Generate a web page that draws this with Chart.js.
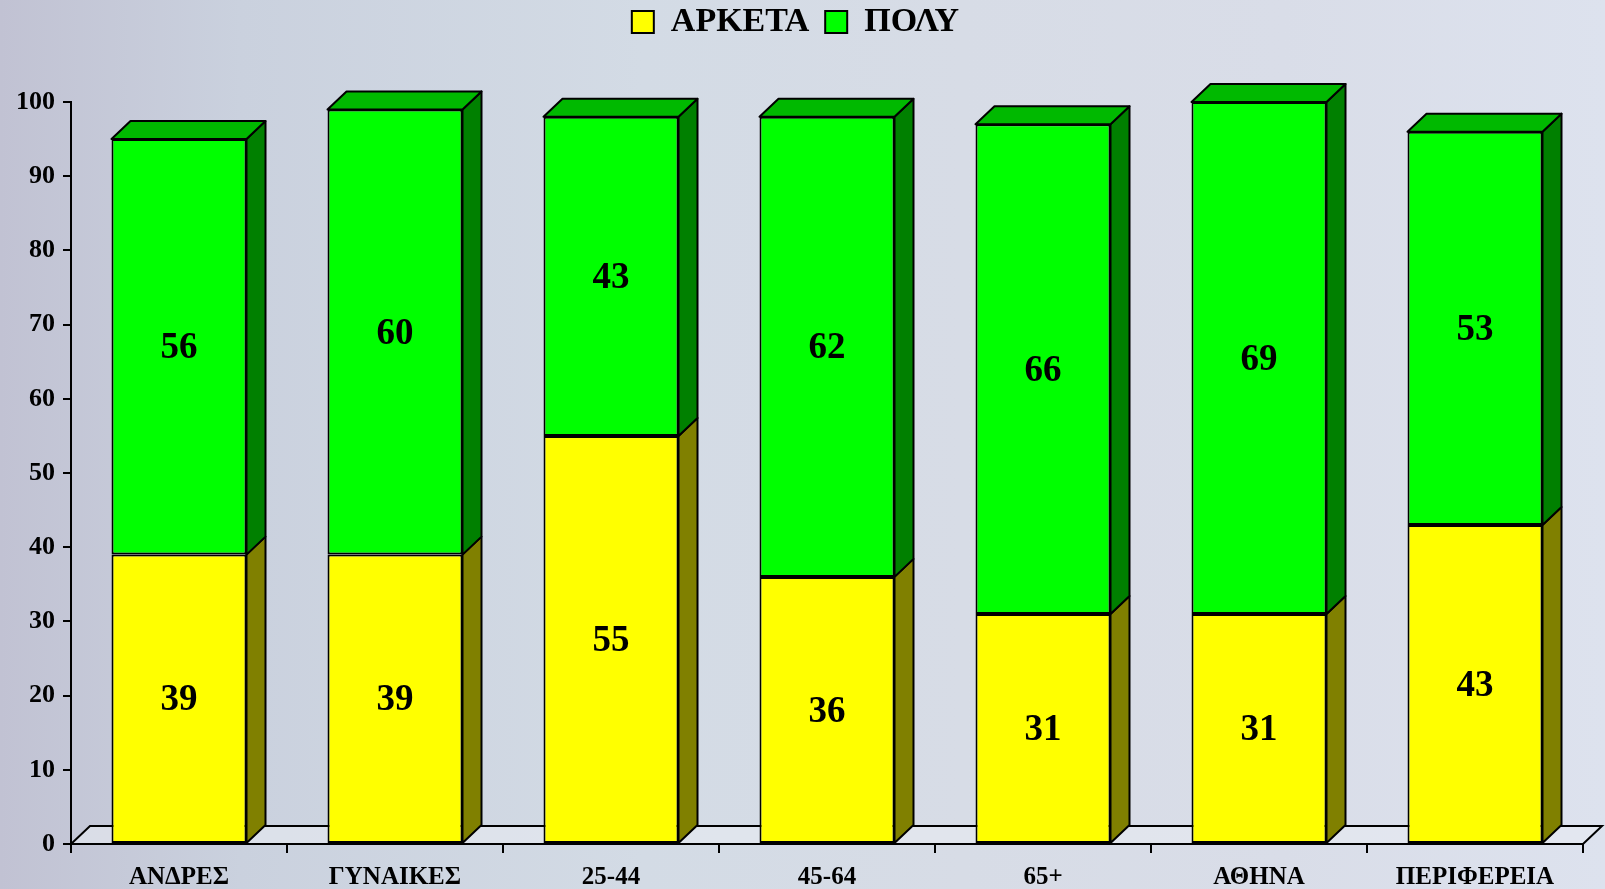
<!DOCTYPE html>
<html>
<head>
<meta charset="utf-8">
<script src="https://cdn.jsdelivr.net/npm/chart.js@4.4.0/dist/chart.umd.min.js"></script>
<style>
    html, body { margin: 0; padding: 0; }
    body {
        width: 1605px; height: 889px; overflow: hidden;
        background: linear-gradient(90deg, #c1c2d3 0%, #cad1de 15%, #d3dbe5 40%, #d7dce6 60%, #d9dde8 80%, #dde2ee 100%);
    }
    #grafico { display: block; }
</style>
</head>
<body>
<canvas id="grafico" width="1605" height="889"></canvas>
<script>
// --- DADOS ---
const categorias = ['ΑΝΔΡΕΣ', 'ΓΥΝΑΙΚΕΣ', '25-44', '45-64', '65+', 'ΑΘΗΝΑ', 'ΠΕΡΙΦΕΡΕΙΑ'];
const serieArketa = [39, 39, 55, 36, 31, 31, 43];
const seriePoly = [56, 60, 43, 62, 66, 69, 53];
const nomesSeries = ['ΑΡΚΕΤΑ', 'ΠΟΛΥ'];

// cores: frente, lateral, topo
const CORES = [
    { frente: '#ffff00', lado: '#808000', topo: '#c8c800' },
    { frente: '#00ff00', lado: '#008000', topo: '#00b900' }
];

const FONTE = '"Liberation Serif", "Times New Roman", serif';
const PROF_X = 19, PROF_Y = 18; // profundidade do efeito 3D

// Espaço extra abaixo da legenda
const legendaMargem = {
    id: 'legendaMargem',
    beforeInit(chart) {
        const fitOriginal = chart.legend.fit;
        chart.legend.fit = function () {
            fitOriginal.bind(chart.legend)();
            this.height += 53;
        };
    }
};

// Piso + laterais/topos 3D + números nas barras
const barras3D = {
    id: 'barras3D',
    beforeDatasetsDraw(chart) {
        const { ctx, chartArea: a } = chart;
        ctx.save();
        ctx.beginPath();
        ctx.moveTo(a.left, a.bottom);
        ctx.lineTo(a.right, a.bottom);
        ctx.lineTo(a.right + PROF_X, a.bottom - PROF_Y);
        ctx.lineTo(a.left + PROF_X, a.bottom - PROF_Y);
        ctx.closePath();
        ctx.fillStyle = 'rgba(232, 235, 242, 0.6)';
        ctx.fill();
        ctx.lineWidth = 2;
        ctx.strokeStyle = '#000';
        ctx.stroke();
        ctx.restore();
    },
    afterDatasetsDraw(chart) {
        const ctx = chart.ctx;
        const ultimo = chart.data.datasets.length - 1;
        ctx.save();
        ctx.lineWidth = 2;
        ctx.strokeStyle = '#000';
        ctx.lineJoin = 'round';
        chart.data.datasets.forEach((ds, i) => {
            const meta = chart.getDatasetMeta(i);
            meta.data.forEach((bar) => {
                const { x, y, base, width } = bar.getProps(['x', 'y', 'base', 'width'], true);
                const esq = x - width / 2, dir = x + width / 2;
                // lateral
                ctx.beginPath();
                ctx.moveTo(dir, y);
                ctx.lineTo(dir + PROF_X, y - PROF_Y);
                ctx.lineTo(dir + PROF_X, base - PROF_Y);
                ctx.lineTo(dir, base);
                ctx.closePath();
                ctx.fillStyle = CORES[i].lado;
                ctx.fill();
                ctx.stroke();
                // topo (só no último segmento)
                if (i === ultimo) {
                    ctx.beginPath();
                    ctx.moveTo(esq, y);
                    ctx.lineTo(esq + PROF_X, y - PROF_Y);
                    ctx.lineTo(dir + PROF_X, y - PROF_Y);
                    ctx.lineTo(dir, y);
                    ctx.closePath();
                    ctx.fillStyle = CORES[i].topo;
                    ctx.fill();
                    ctx.stroke();
                }
            });
        });
        // números
        ctx.fillStyle = '#000';
        ctx.font = 'bold 37px ' + FONTE;
        ctx.textAlign = 'center';
        ctx.textBaseline = 'middle';
        chart.data.datasets.forEach((ds, i) => {
            chart.getDatasetMeta(i).data.forEach((bar, j) => {
                const { x, y, base } = bar.getProps(['x', 'y', 'base'], true);
                ctx.fillText(ds.data[j], x, (y + base) / 2 + 2);
            });
        });
        ctx.restore();
    }
};

const datasets = [serieArketa, seriePoly].map((valores, i) => ({
    label: nomesSeries[i],
    data: valores,
    backgroundColor: CORES[i].frente,
    borderColor: '#000',
    borderWidth: 2,
    borderSkipped: false,
    categoryPercentage: 1.0,
    barPercentage: 0.625
}));

new Chart(document.getElementById('grafico'), {
    type: 'bar',
    data: { labels: categorias, datasets: datasets },
    options: {
        responsive: false,
        animation: false,
        layout: { padding: { left: 8, right: 22, top: -11, bottom: -14 } },
        plugins: {
            legend: {
                position: 'top',
                labels: {
                    color: '#000',
                    font: { family: FONTE, size: 34, weight: 'bold' },
                    boxWidth: 22,
                    boxHeight: 22,
                    padding: 16
                }
            },
            tooltip: { enabled: false }
        },
        scales: {
            x: {
                stacked: true,
                grid: { display: true, drawOnChartArea: false, offset: true, color: '#000', lineWidth: 2, tickLength: 9 },
                border: { display: true, color: '#000', width: 2 },
                ticks: {
                    color: '#000',
                    font: { family: FONTE, size: 25, weight: 'bold' },
                    padding: 10,
                    maxRotation: 0
                }
            },
            y: {
                stacked: true,
                min: 0,
                max: 100,
                grid: { display: true, drawOnChartArea: false, color: '#000', lineWidth: 2, tickLength: 8 },
                border: { display: true, color: '#000', width: 2 },
                ticks: {
                    stepSize: 10,
                    color: '#000',
                    font: { family: FONTE, size: 26, weight: 'bold' },
                    padding: 8
                }
            }
        }
    },
    plugins: [legendaMargem, barras3D]
});
</script>
</body>
</html>
